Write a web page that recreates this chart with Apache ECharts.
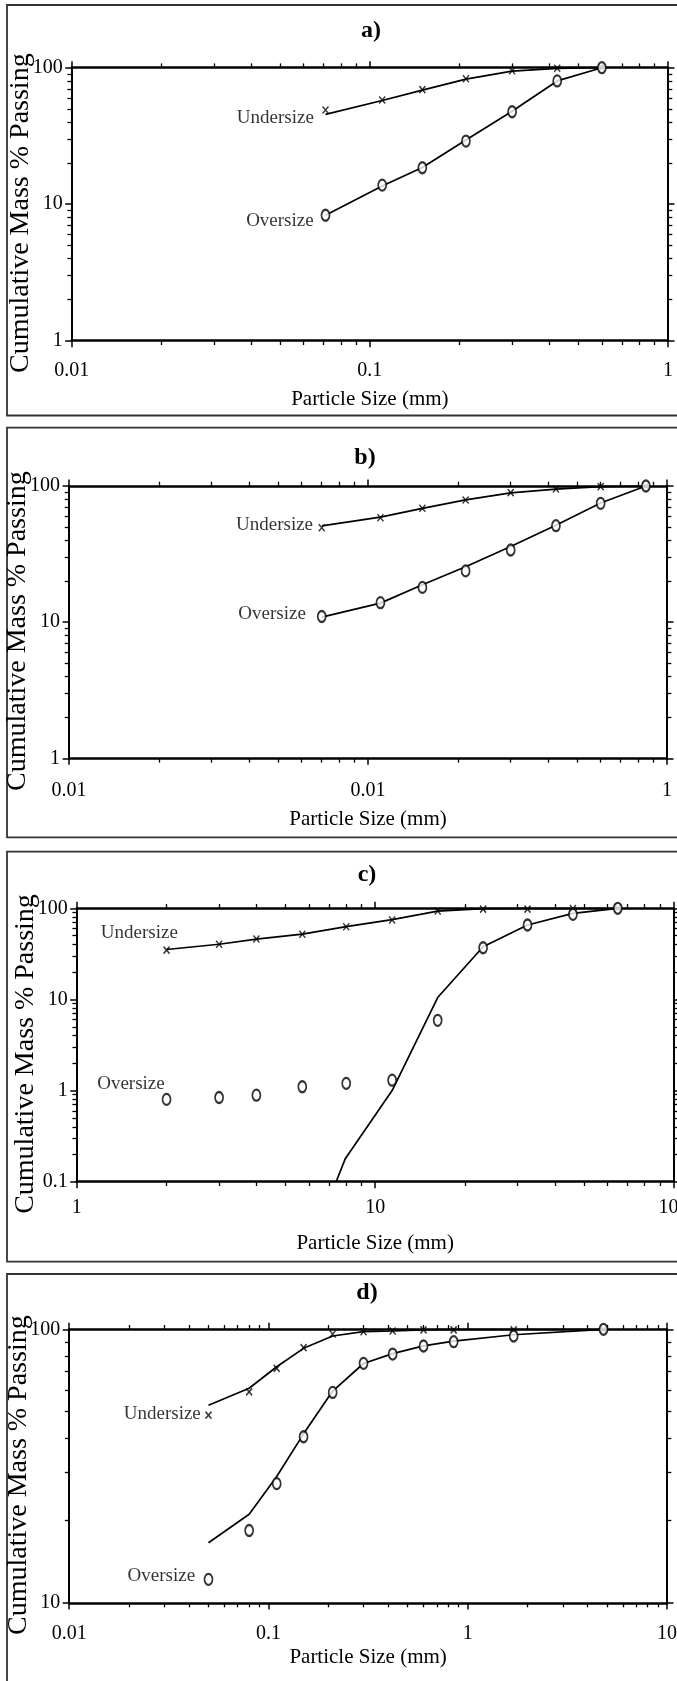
<!DOCTYPE html>
<html>
<head>
<meta charset="utf-8">
<script src="https://cdn.jsdelivr.net/npm/echarts@6/dist/echarts.min.js"></script>
<style>
html, body { margin: 0; padding: 0; background: #fff; }
#chart { width: 677px; height: 1681px; }
</style>
</head>
<body>
<div id="chart"></div>
<script>
// ---- panel a
var sizesA = [0.071, 0.11, 0.15, 0.21, 0.3, 0.425, 0.6];
var underA = [49, 58, 69, 83, 95, 99, 100];
var underFitA = [45.5, 57.5, 68.5, 82.5, 94.5, 99, 100];
var overA = [8.3, 13.8, 18.5, 29, 47.6, 80, 100];
var overFitA = [8.3, 13.6, 18.6, 29.5, 48, 80, 100];
var xTicksA = [0.01, 0.1, 1];
var xLabelsA = ['0.01', '0.1', '1'];
var yTicksA = [1, 10, 100];
var yLabelsA = ['1', '10', '100'];

// ---- panel b
var sizesB = [0.07, 0.11, 0.152, 0.212, 0.3, 0.425, 0.6, 0.85];
var underB = [49.4, 58.5, 68.6, 78.9, 89.3, 95, 99, 100];
var underFitB = [51, 59, 68.5, 79, 89, 95, 99, 100];
var overB = [11, 13.9, 18, 23.8, 33.9, 51.1, 74.6, 100];
var overFitB = [10.9, 13.8, 18.8, 25.5, 36, 51.5, 75, 100];
var xTicksB = [0.01, 0.1, 1];
var xLabelsB = ['0.01', '0.01', '1'];
var yTicksB = [1, 10, 100];
var yLabelsB = ['1', '10', '100'];

// ---- panel c
var sizesC = [2, 3, 4, 5.7, 8, 11.4, 16.2, 23, 32.4, 46, 65];
var underC = [34.8, 40.3, 46, 51.9, 62.8, 74.4, 93.3, 98, 98, 99.5, 100];
var underFitC = [35.3, 40.3, 46, 52, 62.8, 75, 93.3, 99, 100, 100, 100];
var overC = [0.8, 0.84, 0.89, 1.1, 1.2, 1.3, 5.9, 36.9, 65.5, 85.9, 100];
var overFitSizesC = [7.4, 7.95, 11.4, 16.2, 23, 32.4, 46, 65];
var overFitC = [0.1, 0.18, 1.0, 10.5, 37.8, 65.5, 88, 100];
var xTicksC = [1, 10, 100];
var xLabelsC = ['1', '10', '100'];
var yTicksC = [0.1, 1, 10, 100];
var yLabelsC = ['0.1', '1', '10', '100'];

// ---- panel d
var sizesD = [0.05, 0.08, 0.11, 0.15, 0.21, 0.3, 0.42, 0.6, 0.85, 1.7, 4.8];
var underD = [48.6, 59.1, 72, 85.7, 96.1, 98, 98.6, 99.5, 99.5, 99.5, 100];
var underFitD = [52.8, 60.9, 73, 85.2, 94.5, 98, 98.6, 99.5, 100, 100, 100];
var overD = [12.2, 18.4, 27.3, 40.5, 58.8, 75.1, 81.2, 86.9, 90.1, 94.5, 100];
var overFitD = [16.6, 21.1, 29, 41.5, 59.5, 75, 81.5, 87, 90.5, 95.5, 100];
var xTicksD = [0.01, 0.1, 1, 10];
var xLabelsD = ['0.01', '0.1', '1', '10'];
var yTicksD = [10, 100];
var yLabelsD = ['10', '100'];

var FONT = '"Liberation Serif", "Times New Roman", serif';

var panels = [
  { title: 'a)', titleX: 371, titleY: 31, box: [7, 5, 720, 410.5],
    grid: { left: 71.7, top: 67.7, width: 596.3, height: 273 },
    sizes: sizesA, under: underA, underFit: underFitA, over: overA,
    overFitSizes: sizesA, overFit: overFitA,
    xTicks: xTicksA, xLabels: xLabelsA, yTicks: yTicksA, yLabels: yLabelsA,
    xLabelMargin: 20, xNameGap: 48,
    underLabel: { position: 'left', distance: 8, offset: [0, 8] },
    overLabel: { position: 'left', distance: 7, offset: [0, 6] } },
  { title: 'b)', titleX: 365, titleY: 458, box: [7, 427.7, 720, 409.6],
    grid: { left: 69.1, top: 486, width: 597.9, height: 272.3 },
    sizes: sizesB, under: underB, underFit: underFitB, over: overB,
    overFitSizes: sizesB, overFit: overFitB,
    xTicks: xTicksB, xLabels: xLabelsB, yTicks: yTicksB, yLabels: yLabelsB,
    xLabelMargin: 22, xNameGap: 51,
    underLabel: { position: 'left', distance: 5, offset: [0, -3] },
    overLabel: { position: 'left', distance: 11, offset: [0, -2] } },
  { title: 'c)', titleX: 367, titleY: 875, box: [7, 851.7, 720, 410],
    grid: { left: 76.7, top: 908.3, width: 596.9, height: 273.4 },
    sizes: sizesC, under: underC, underFit: underFitC, over: overC,
    overFitSizes: overFitSizesC, overFit: overFitC,
    xTicks: xTicksC, xLabels: xLabelsC, yTicks: yTicksC, yLabels: yLabelsC,
    xLabelMargin: 16, xNameGap: 51,
    underLabel: { position: 'left', distance: 0, offset: [15, -17] },
    overLabel: { position: 'left', distance: 0, offset: [3, -15] } },
  { title: 'd)', titleX: 367, titleY: 1293, box: [7, 1274, 720, 440],
    grid: { left: 69.2, top: 1329.3, width: 597.8, height: 273.7 },
    sizes: sizesD, under: underD, underFit: underFitD, over: overD,
    overFitSizes: sizesD, overFit: overFitD,
    xTicks: xTicksD, xLabels: xLabelsD, yTicks: yTicksD, yLabels: yLabelsD,
    xLabelMargin: 21, xNameGap: 44,
    underLabel: { position: 'left', distance: 4, offset: [0, -1] },
    overLabel: { position: 'left', distance: 8.5, offset: [0, -3] } }
];

function tickLabel(ticks, labels) {
  return function (v) {
    for (var i = 0; i < ticks.length; i++) {
      if (Math.abs(Math.log10(v) - Math.log10(ticks[i])) < 1e-6) return labels[i];
    }
    return '';
  };
}

function pairs(xs, ys) {
  return xs.map(function (x, i) { return [x, ys[i]]; });
}

function logAxis(gi, ticks, labels, position, withLabels, extra) {
  var isX = position === 'top' || position === 'bottom';
  var ax = {
    type: 'log', logBase: 10, gridIndex: gi, position: position,
    min: ticks[0], max: ticks[ticks.length - 1],
    axisLine: { onZero: false, lineStyle: { color: '#000', width: isX ? 2.5 : 2 } },
    axisTick: { show: true, inside: false, length: 6.5, lineStyle: { color: '#000', width: 1.5 } },
    minorTick: { show: true, splitNumber: 9, length: 4.3, lineStyle: { color: '#000', width: 1.3 } },
    splitLine: { show: false },
    minorSplitLine: { show: false },
    axisLabel: { show: false }
  };
  if (withLabels) {
    ax.axisLabel = {
      show: true, color: '#000', fontFamily: FONT, fontSize: 20,
      showMinLabel: true, showMaxLabel: true, hideOverlap: false,
      formatter: tickLabel(ticks, labels)
    };
  }
  for (var k in extra) ax[k] = extra[k];
  return ax;
}

var grids = [], xAxes = [], yAxes = [], series = [], graphics = [];

panels.forEach(function (p, i) {
  grids.push({ left: p.grid.left, top: p.grid.top, width: p.grid.width, height: p.grid.height,
    containLabel: false, outerBoundsMode: 'none' });

  var xb = logAxis(i, p.xTicks, p.xLabels, 'bottom', true, {
    name: 'Particle Size (mm)', nameLocation: 'middle', nameGap: p.xNameGap,
    nameTextStyle: { color: '#000', fontFamily: FONT, fontSize: 21 }
  });
  xb.axisLabel.margin = p.xLabelMargin;
  xAxes.push(xb);
  xAxes.push(logAxis(i, p.xTicks, p.xLabels, 'top', false, {}));

  var yl = logAxis(i, p.yTicks, p.yLabels, 'left', true, {
    name: 'Cumulative Mass % Passing', nameLocation: 'middle', nameGap: 37, nameRotate: 90,
    nameMoveOverlap: false,
    nameTextStyle: { color: '#000', fontFamily: FONT, fontSize: 28, padding: [0, 18, 0, 0] }
  });
  yl.axisLabel.margin = 9;
  yAxes.push(yl);
  yAxes.push(logAxis(i, p.yTicks, p.yLabels, 'right', false, {}));

  var xi = i * 2, yi = i * 2;
  var lineStyle = { color: '#000', width: 1.7 };
  var labelBase = { show: true, formatter: '{a}', color: '#000', fontFamily: FONT, fontSize: 19 };

  series.push({
    type: 'line', name: 'Undersize fit', xAxisIndex: xi, yAxisIndex: yi,
    data: pairs(p.sizes, p.underFit), symbol: 'none', lineStyle: lineStyle, clip: true, z: 3
  });
  series.push({
    type: 'line', name: 'Oversize fit', xAxisIndex: xi, yAxisIndex: yi,
    data: pairs(p.overFitSizes, p.overFit), symbol: 'none', lineStyle: lineStyle, clip: true, z: 3
  });

  var uData = pairs(p.sizes, p.under).map(function (d, k) {
    if (k !== 0) return d;
    return { value: d, label: Object.assign({}, labelBase, p.underLabel) };
  });
  series.push({
    type: 'scatter', name: 'Undersize', xAxisIndex: xi, yAxisIndex: yi,
    data: uData,
    symbol: 'path://M0,0L10,10M10,0L0,10', symbolSize: [6, 7],
    itemStyle: { color: '#000', borderColor: '#000', borderWidth: 1.5 },
    z: 4
  });

  var oData = pairs(p.sizes, p.over).map(function (d, k) {
    if (k !== 0) return d;
    return { value: d, label: Object.assign({}, labelBase, p.overLabel) };
  });
  series.push({
    type: 'scatter', name: 'Oversize', xAxisIndex: xi, yAxisIndex: yi,
    data: oData,
    symbol: 'emptyCircle', symbolSize: [8, 11],
    itemStyle: { color: '#000', borderColor: '#000', borderWidth: 1.5 },
    z: 5
  });

  graphics.push({
    type: 'rect', silent: true, z: -1,
    shape: { x: p.box[0], y: p.box[1], width: p.box[2], height: p.box[3] },
    style: { fill: 'none', stroke: '#333', lineWidth: 1.8 }
  });
  graphics.push({
    type: 'text', silent: true,
    x: p.titleX, y: p.titleY,
    style: { text: p.title, align: 'center', verticalAlign: 'middle', fill: '#000',
      font: 'bold 24px ' + FONT }
  });
});

var chart = echarts.init(document.getElementById('chart'), null, { renderer: 'canvas' });
chart.setOption({
  animation: false,
  backgroundColor: '#fff',
  grid: grids,
  xAxis: xAxes,
  yAxis: yAxes,
  series: series,
  graphic: graphics
});
</script>
</body>
</html>
